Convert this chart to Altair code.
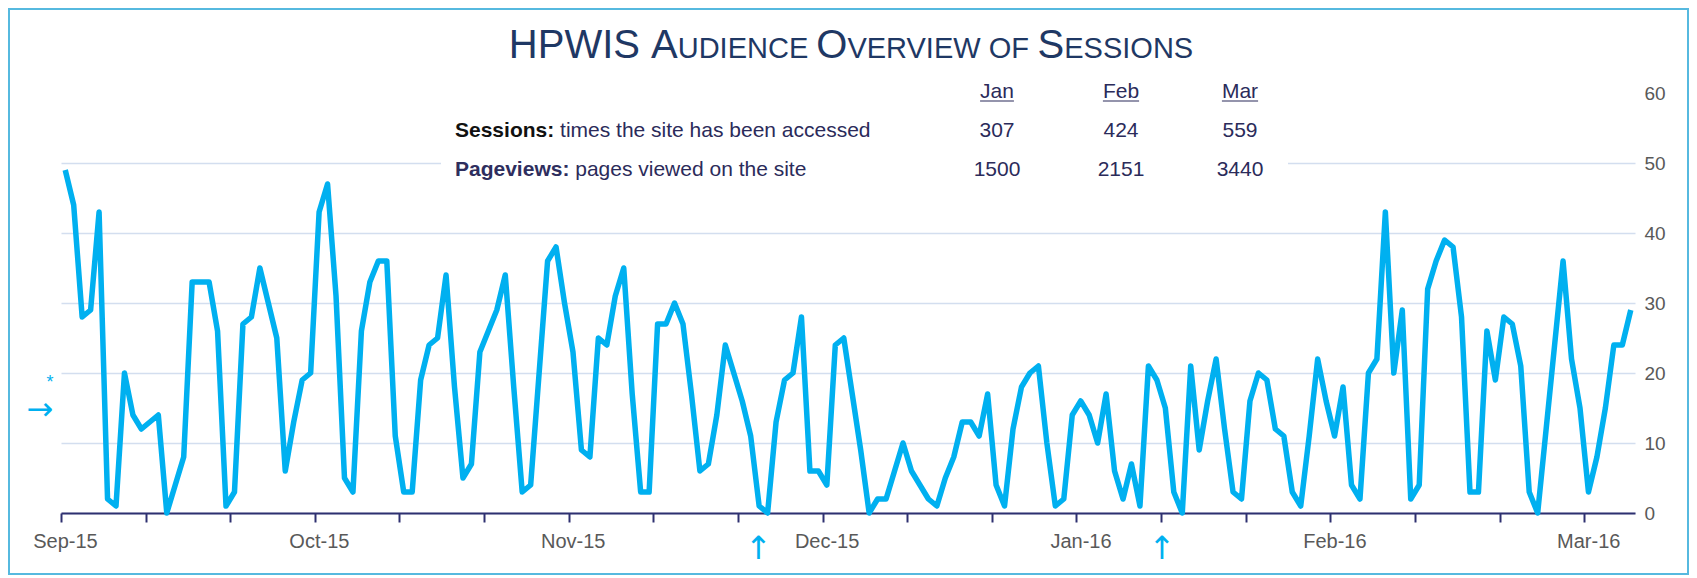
import altair as alt
import pandas as pd

# ---------------- data ----------------
sessions = [
    49, 44, 28, 29, 43, 2, 1, 20, 14, 12,
    13, 14, 0, 4, 8, 33, 33, 33, 26, 1,
    3, 27, 28, 35, 30, 25, 6, 13, 19, 20,
    43, 47, 31, 5, 3, 26, 33, 36, 36, 11,
    3, 3, 19, 24, 25, 34, 18, 5, 7, 23,
    26, 29, 34, 18, 3, 4, 20, 36, 38, 30,
    23, 9, 8, 25, 24, 31, 35, 17, 3, 3,
    27, 27, 30, 27, 17, 6, 7, 14, 24, 20,
    16, 11, 1, 0, 13, 19, 20, 28, 6, 6,
    4, 24, 25, 17, 9, 0, 2, 2, 6, 10,
    6, 4, 2, 1, 5, 8, 13, 13, 11, 17,
    4, 1, 12, 18, 20, 21, 10, 1, 2, 14,
    16, 14, 10, 17, 6, 2, 7, 1, 21, 19,
    15, 3, 0, 21, 9, 16, 22, 12, 3, 2,
    16, 20, 19, 12, 11, 3, 1, 11, 22, 16,
    11, 18, 4, 2, 20, 22, 43, 20, 29, 2,
    4, 32, 36, 39, 38, 28, 3, 3, 26, 19,
    28, 27, 21, 3, 0, 12, 24, 36, 22, 15,
    3, 8, 15, 24, 24, 29,
]
month_labels = ["Sep-15", "Oct-15", "Nov-15", "Dec-15", "Jan-16", "Feb-16", "Mar-16"]
y_ticks = [0, 10, 20, 30, 40, 50, 60]
table_months = ["Jan", "Feb", "Mar"]
table_sessions = [307, 424, 559]
table_pageviews = [1500, 2151, 3440]
arrow_positions = [82.4, 130.1]   # category positions of the up-arrow markers

# ---------------- layout ----------------
N = len(sessions)
W, H = 1574, 420
PAD = {"left": 53, "top": 85, "right": 54, "bottom": 62}
FONT = "Liberation Sans"
LINE_COLOR = "#00B0F0"
NAVY = "#1F3864"
AXIS_NAVY = "#2E3070"
GRAY = "#595959"
TXT = "#2B2B5A"

df = pd.DataFrame({"x": [i + 0.5 for i in range(N)], "sessions": sessions})

label_arr = "[" + ",".join("'%s'" % m for m in month_labels) + "]"
label_expr = "datum.value % 30 == 0 ? " + label_arr + "[datum.value / 30] : ''"

xscale = alt.Scale(domain=[0, N], nice=False, zero=False)
yscale = alt.Scale(domain=[0, 60], nice=False)

line = alt.Chart(df).mark_line(color=LINE_COLOR, strokeWidth=5.5, strokeJoin="round").encode(
    x=alt.X("x:Q", scale=xscale,
            axis=alt.Axis(values=list(range(0, 181, 10)), labelExpr=label_expr, grid=False,
                          domainColor=AXIS_NAVY, domainWidth=2, tickColor=AXIS_NAVY, tickWidth=2,
                          tickSize=9, labelFontSize=20, labelColor=GRAY, labelFont=FONT,
                          labelPadding=9, labelOffset=4, labelFlush=False, labelOverlap=False,
                          title=None)),
    y=alt.Y("sessions:Q", scale=yscale,
            axis=alt.Axis(orient="right", values=y_ticks, domain=False, ticks=False, grid=True,
                          gridColor="#D3DEEF", gridWidth=1.5,
                          gridOpacity={"condition": {"test": "datum.value >= 60", "value": 0}, "value": 1},
                          labelFontSize=19, labelColor=GRAY,
                          labelFont=FONT, labelPadding=9, title=None)),
)

one = alt.Data(values=[{}])


def text_layer(txt, px, py, size, color, weight="normal", align="left", baseline="alphabetic", font=FONT):
    return alt.Chart(alt.Data(values=[{"t": txt}])).mark_text(
        align=align, baseline=baseline, font=font, fontSize=size, fontWeight=weight, color=color
    ).encode(x=alt.value(px), y=alt.value(py), text="t:N")


# Arial / Liberation Sans advance widths (per 1000 em)
REG = {' ': 278, ':': 278, 'a': 556, 'b': 556, 'c': 500, 'd': 556, 'e': 556, 'f': 278, 'g': 556,
       'h': 556, 'i': 222, 'l': 222, 'm': 833, 'n': 556, 'o': 556, 'p': 556, 'r': 333, 's': 500,
       't': 278, 'u': 556, 'v': 500, 'w': 722, 'y': 500,
       'A': 667, 'C': 722, 'D': 722, 'E': 667, 'F': 611, 'H': 722, 'I': 278, 'J': 500, 'M': 833,
       'N': 722, 'O': 778, 'P': 667, 'R': 722, 'S': 667, 'U': 722, 'V': 667, 'W': 944}
BOLD = {':': 333, 'S': 667, 'P': 667, 'a': 556, 'e': 556, 'g': 611, 'i': 278, 'n': 611, 'o': 611,
        's': 556, 'v': 556, 'w': 778}


def width(s, size, table=REG):
    return sum(table[c] for c in s) * size / 1000.0


layers = [line]

# white backdrop behind the summary table (hides the gridlines there)
layers.append(alt.Chart(one).mark_rect(color="white").encode(
    x=alt.value(380), x2=alt.value(1227), y=alt.value(-25), y2=alt.value(92)))

# outer frame
layers.append(alt.Chart(one).mark_rect(fillOpacity=0, stroke="#56B9DF", strokeWidth=2).encode(
    x=alt.value(-52), x2=alt.value(W + PAD["right"] - 1), y=alt.value(-PAD["top"] + 1),
    y2=alt.value(H + PAD["bottom"] - 1)))

# title with small caps
FB, FS = 40, 29
pieces = [("HPWIS ", FB), ("A", FB), ("UDIENCE ", FS), ("O", FB), ("VERVIEW OF ", FS), ("S", FB), ("ESSIONS", FS)]
total = sum(width(p, s) for p, s in pieces)
cx = 851 - 61
px = cx - total / 2
for p, s in pieces:
    layers.append(text_layer(p.strip(), px, -35, s, NAVY))
    px += width(p, s)

# summary table
TS = 21
col_x = [936, 1060, 1179]
row_label_x = 394
for m, cxx in zip(table_months, col_x):
    layers.append(text_layer(m, cxx, 5, TS, TXT, align="center"))
    w = width(m, TS)
    layers.append(alt.Chart(one).mark_rule(color=TXT, strokeWidth=1.2).encode(
        x=alt.value(cxx - w / 2), x2=alt.value(cxx + w / 2), y=alt.value(8)))

rows = [("Sessions:", "times the site has been accessed", table_sessions, 44, "#111111"),
        ("Pageviews:", "pages viewed on the site", table_pageviews, 83, "#2E2E5E")]
for bold, rest, vals, yy, bcol in rows:
    layers.append(text_layer(bold, row_label_x, yy, TS, bcol, weight="bold"))
    layers.append(text_layer(rest, row_label_x + width(bold, TS, BOLD) + width(" ", TS), yy, TS, TXT))
    for v, cxx in zip(vals, col_x):
        layers.append(text_layer(str(v), cxx, yy, TS, TXT, align="center"))

# arrow annotations
layers.append(text_layer("\u2192", -21, 317, 32, LINE_COLOR, align="center", baseline="middle",
                         font="DejaVu Sans"))
layers.append(text_layer("*", -11, 290, 18, LINE_COLOR, align="center", baseline="middle"))
for pos in arrow_positions:
    layers.append(text_layer("\u2191", pos * W / N, 466, 32, LINE_COLOR, align="center",
                             font="DejaVu Sans"))

chart = alt.layer(*layers).properties(
    width=W, height=H, padding=PAD, autosize=alt.AutoSizeParams(type="none"),
    background="white",
).configure_view(strokeWidth=0)

chart.save("out.html", embed_options={"renderer": "svg", "actions": False})
